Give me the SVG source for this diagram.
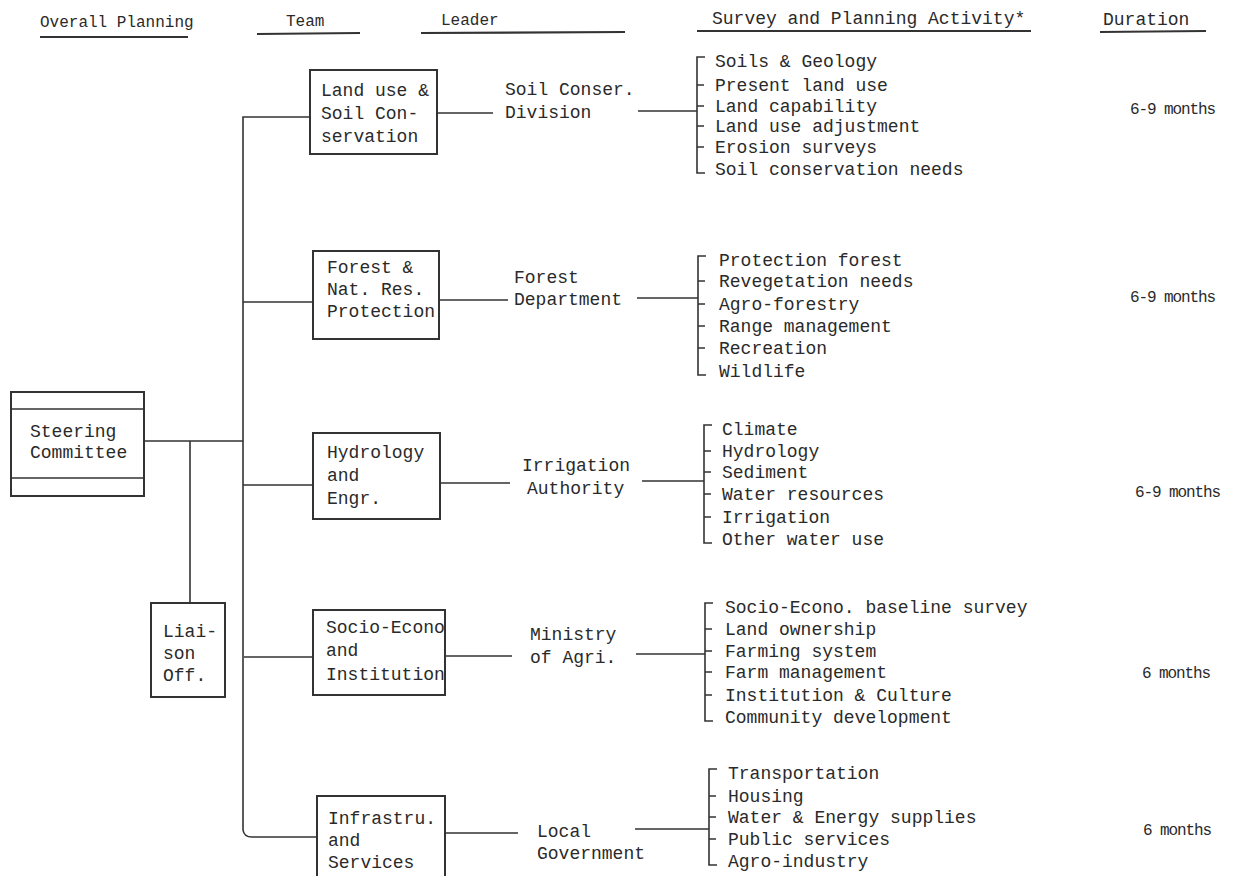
<svg xmlns="http://www.w3.org/2000/svg" width="1235" height="876" viewBox="0 0 1235 876">
<style>
text{font-family:"Liberation Mono","DejaVu Sans Mono",monospace;fill:#2a2a2a;font-size:18px}
.h{font-size:16px}
.h2{font-size:18px}
.d{font-size:16px;letter-spacing:-1.1px}
.ln{stroke:#333;stroke-width:1.6;fill:none}
.ul{stroke:#333;stroke-width:2.2;fill:none}
.box{stroke:#333;stroke-width:2;fill:#fff}
</style>
<rect width="1235" height="876" fill="#fff"/>
<g id="headers">
<text class="h" x="40" y="27">Overall Planning</text>
<text class="h" x="286" y="26">Team</text>
<text class="h" x="441" y="25">Leader</text>
<text class="h2" x="712" y="24">Survey and Planning Activity*</text>
<text class="h2" x="1103" y="25">Duration</text>
<path class="ul" d="M40 37 L188 37 M257 34 L360 33 M421 33 L625 32 M697 31 L1031 31 M1100 32 L1206 31"/>
</g>
<g id="connectors">
<path class="ln" d="M144 441 H243 M190 441 V603"/>
<path class="ln" d="M310 117 H243 V830 Q244 837 252 837 H317"/>
<path class="ln" d="M243 302 H313 M243 485 H313 M244 657 H313"/>
<path class="ln" d="M437 113 H493 M638 111 H697"/>
<path class="ln" d="M439 300 H508 M637 298 H698"/>
<path class="ln" d="M440 483 H510 M642 481 H704"/>
<path class="ln" d="M445 656 H512 M636 654 H705"/>
<path class="ln" d="M445 833 H518 M635 829 H709"/>
<path class="ln" d="M705 57 H697 V173 H705 M697 85 H704 M697 106 H704 M697 126 H704 M697 147 H704"/>
<path class="ln" d="M706 256 H698 V375 H706 M698 281 H705 M698 304 H705 M698 326 H705 M698 348 H705"/>
<path class="ln" d="M712 425 H704 V543 H712 M704 451 H711 M704 472 H711 M704 494 H711 M704 517 H711"/>
<path class="ln" d="M713 603 H705 V721 H713 M705 629 H712 M705 651 H712 M705 672 H712 M705 695 H712"/>
<path class="ln" d="M717 769 H709 V865 H717 M709 796 H716 M709 817 H716 M709 839 H716"/>
</g>
<g id="steering">
<rect class="box" x="11" y="392" width="133" height="104"/>
<path class="ln" d="M11 409 H144 M11 478 H144"/>
<text x="30" y="437">Steering</text>
<text x="30" y="458">Committee</text>
</g>
<g id="liaison">
<rect class="box" x="151" y="603" width="74" height="94"/>
<text x="163" y="637">Liai-</text>
<text x="163" y="659">son</text>
<text x="163" y="681">Off.</text>
</g>
<g id="team-landuse">
<rect class="box" x="310" y="70" width="127" height="84"/>
<text x="321" y="96">Land use &amp;</text>
<text x="321" y="119">Soil Con-</text>
<text x="321" y="142">servation</text>
</g>
<g id="team-forest">
<rect class="box" x="313" y="251" width="126" height="88"/>
<text x="327" y="273">Forest &amp;</text>
<text x="327" y="295">Nat. Res.</text>
<text x="327" y="317">Protection</text>
</g>
<g id="team-hydrology">
<rect class="box" x="313" y="433" width="127" height="86"/>
<text x="327" y="458">Hydrology</text>
<text x="327" y="481">and</text>
<text x="327" y="504">Engr.</text>
</g>
<g id="team-socio">
<rect class="box" x="313" y="610" width="132" height="85"/>
<text x="326" y="633">Socio-Econo</text>
<text x="326" y="656">and</text>
<text x="326" y="680">Institution</text>
</g>
<g id="team-infra">
<rect class="box" x="317" y="796" width="128" height="90"/>
<text x="328" y="824">Infrastru.</text>
<text x="328" y="846">and</text>
<text x="328" y="868">Services</text>
</g>
<g id="leader-soil">
<text x="505" y="95">Soil Conser.</text>
<text x="505" y="118">Division</text>
</g>
<g id="leader-forest">
<text x="514" y="283">Forest</text>
<text x="514" y="305">Department</text>
</g>
<g id="leader-irrigation">
<text x="522" y="471">Irrigation</text>
<text x="527" y="494">Authority</text>
</g>
<g id="leader-agri">
<text x="530" y="640">Ministry</text>
<text x="530" y="663">of Agri.</text>
</g>
<g id="leader-local">
<text x="537" y="837">Local</text>
<text x="537" y="859">Government</text>
</g>
<g id="activities-soil">
<text x="715" y="67">Soils &amp; Geology</text>
<text x="715" y="91">Present land use</text>
<text x="715" y="112">Land capability</text>
<text x="715" y="132">Land use adjustment</text>
<text x="715" y="153">Erosion surveys</text>
<text x="715" y="175">Soil conservation needs</text>
</g>
<g id="activities-forest">
<text x="719" y="266">Protection forest</text>
<text x="719" y="287">Revegetation needs</text>
<text x="719" y="310">Agro-forestry</text>
<text x="719" y="332">Range management</text>
<text x="719" y="354">Recreation</text>
<text x="719" y="377">Wildlife</text>
</g>
<g id="activities-hydrology">
<text x="722" y="435">Climate</text>
<text x="722" y="457">Hydrology</text>
<text x="722" y="478">Sediment</text>
<text x="722" y="500">Water resources</text>
<text x="722" y="523">Irrigation</text>
<text x="722" y="545">Other water use</text>
</g>
<g id="activities-socio">
<text x="725" y="613">Socio-Econo. baseline survey</text>
<text x="725" y="635">Land ownership</text>
<text x="725" y="657">Farming system</text>
<text x="725" y="678">Farm management</text>
<text x="725" y="701">Institution &amp; Culture</text>
<text x="725" y="723">Community development</text>
</g>
<g id="activities-infra">
<text x="728" y="779">Transportation</text>
<text x="728" y="802">Housing</text>
<text x="728" y="823">Water &amp; Energy supplies</text>
<text x="728" y="845">Public services</text>
<text x="728" y="867">Agro-industry</text>
</g>
<g id="durations">
<text class="d" x="1130" y="114">6-9 months</text>
<text class="d" x="1130" y="302">6-9 months</text>
<text class="d" x="1135" y="497">6-9 months</text>
<text class="d" x="1142" y="678">6 months</text>
<text class="d" x="1143" y="835">6 months</text>
</g>
</svg>
